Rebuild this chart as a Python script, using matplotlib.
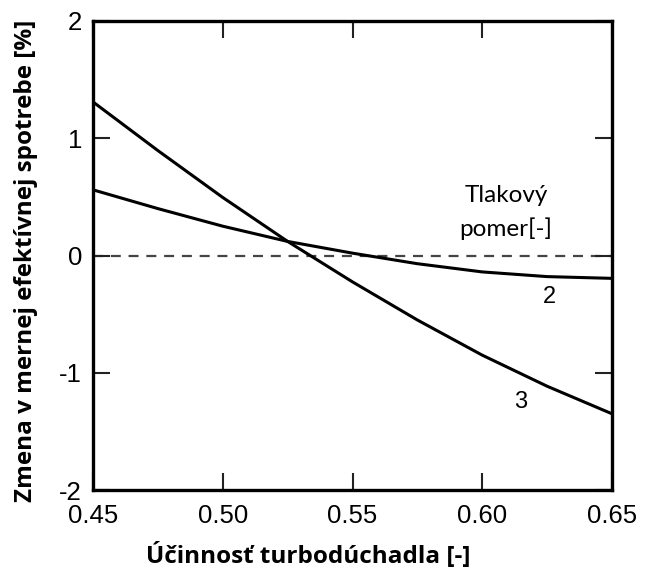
import matplotlib
matplotlib.use("Agg")
import matplotlib.pyplot as plt

# Turbocharger efficiency [-]
efficiency = [0.45, 0.475, 0.50, 0.525, 0.55, 0.575, 0.60, 0.625, 0.65]
# Change in specific fuel consumption [%] for pressure ratio 2 and 3
ratio_2 = [0.56, 0.40, 0.25, 0.12, 0.02, -0.07, -0.14, -0.18, -0.195]
ratio_3 = [1.31, 0.895, 0.495, 0.12, -0.225, -0.55, -0.85, -1.115, -1.35]

x_ticks = [0.45, 0.50, 0.55, 0.60, 0.65]
x_ticklabels = ["0.45", "0.50", "0.55", "0.60", "0.65"]
y_ticks = [-2, -1, 0, 1, 2]
y_ticklabels = ["-2", "-1", "0", "1", "2"]

W, H = 645, 574
fig = plt.figure(figsize=(W / 100, H / 100), dpi=100)
ax = fig.add_axes([93 / W, 1 - 490 / H, (612 - 93) / W, (490 - 21) / H])

ax.axhline(0, color="#444444", lw=1.6, ls=(0, (4.5, 3.5)), zorder=1)
ax.plot(efficiency, ratio_2, color="black", lw=2.2, zorder=2)
ax.plot(efficiency, ratio_3, color="black", lw=2.2, zorder=2)

ax.set_xlim(0.45, 0.65)
ax.set_ylim(-2, 2)
ax.set_xticks(x_ticks)
ax.set_xticklabels(x_ticklabels, fontfamily="Liberation Sans", fontsize=18.5)
ax.set_yticks(y_ticks)
ax.set_yticklabels(y_ticklabels, fontfamily="Liberation Sans", fontsize=18.5)
ax.tick_params(direction="in", length=12, width=1.5, top=True, right=True,
               color="#222222")
ax.tick_params(axis="x", pad=10)
ax.tick_params(axis="y", pad=8)
for s in ax.spines.values():
    s.set_linewidth(2.4)

fig.text(308 / W, 1 - 556 / H, "Účinnosť turbodúchadla [-]", fontfamily="Open Sans",
         fontweight="bold", fontsize=17.5, ha="center", va="center")
fig.text(26 / W, 1 - 261 / H, "Zmena v mernej efektívnej spotrebe [%]",
         fontfamily="Open Sans", fontweight="bold", fontsize=17.5,
         rotation=90, ha="center", va="center")

ax.text(0.6092, 0.37, "Tlakový\npomer[-]", fontfamily="Lato", fontsize=17.5,
        ha="center", va="center", linespacing=1.62)
ax.text(0.6257, -0.356, "2", fontfamily="Liberation Sans", fontsize=17,
        ha="center", va="center")
ax.text(0.6149, -1.246, "3", fontfamily="Liberation Sans", fontsize=17,
        ha="center", va="center")

fig.savefig("out.png", dpi=100)
